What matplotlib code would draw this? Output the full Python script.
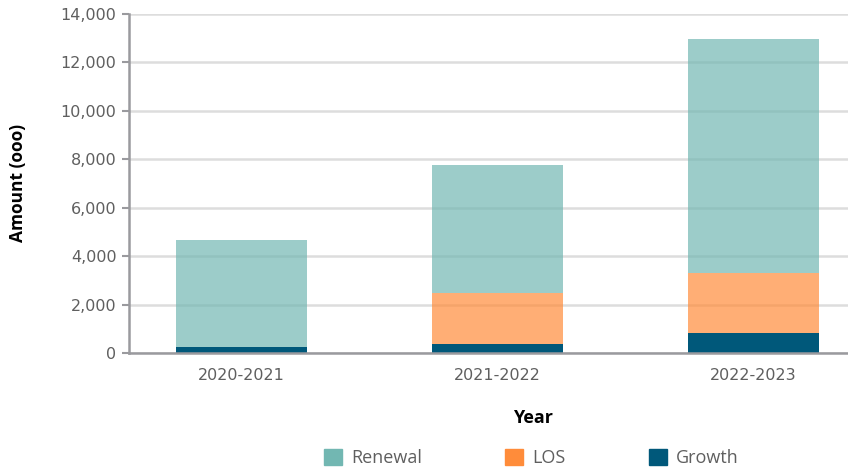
import matplotlib
matplotlib.use('Agg')
import numpy as np
import matplotlib.pyplot as plt
from matplotlib.patches import Patch
from matplotlib.ticker import FuncFormatter

# Data (amounts in thousands)
years = ['2020-2021', '2021-2022', '2022-2023']
growth = [230, 385, 840]
los = [0, 2095, 2450]
renewal = [4440, 5290, 9685]

c_renewal = '#72b7b2'
c_los = '#ff8c3a'
c_growth = '#00587a'

W, H = 848, 470
fig = plt.figure(figsize=(W / 100, H / 100), dpi=100)
ax = fig.add_axes([129 / W, 1 - 353 / H, (848 - 129) / W, (353 - 14) / H])

x = np.arange(len(years))
bw = 0.513
ax.bar(x, growth, bw, color=c_growth, zorder=2)
ax.bar(x, los, bw, bottom=growth, color=c_los, alpha=0.7, zorder=2)
base = np.array(growth) + np.array(los)
ax.bar(x, renewal, bw, bottom=base, color=c_renewal, alpha=0.7, zorder=2)

ax.set_xlim(-0.44, 2.37)
ax.set_ylim(0, 14000)
ax.set_yticks(np.arange(0, 14001, 2000))
ax.yaxis.set_major_formatter(FuncFormatter(lambda v, p: '{:,.0f}'.format(v)))
ax.set_xticks(x)
ax.set_xticklabels(years)

ax.grid(axis='y', color='#dddddd', linewidth=1.8, zorder=0)
ax.set_axisbelow(True)
for s in ['top', 'right']:
    ax.spines[s].set_visible(False)
for s in ['left', 'bottom']:
    ax.spines[s].set_color('#9a9a9e')
    ax.spines[s].set_linewidth(1.8)
ax.tick_params(axis='y', length=5, width=1.5, color='#9a9a9e',
               labelsize=11.5, labelcolor='#5f5f5f', pad=4)
ax.tick_params(axis='x', length=0, labelsize=11.5, labelcolor='#5f5f5f', pad=11)
for lab in ax.get_xticklabels() + ax.get_yticklabels():
    lab.set_family('DejaVu Sans')

fig.text(533 / W, 1 - 418 / H, 'Year', ha='center', va='center',
         fontsize=13, fontweight='bold', family='Open Sans')
fig.text(18 / W, 1 - 183 / H, 'Amount (ooo)', ha='center', va='center',
         rotation=90, fontsize=12.5, fontweight='bold', family='Open Sans')

handles = [Patch(color=c_renewal, label='Renewal'),
           Patch(color=c_los, label='LOS'),
           Patch(color=c_growth, label='Growth')]
leg = fig.legend(handles=handles, ncol=3, loc='center left',
                 bbox_to_anchor=(308 / W, 1 - 458 / H), frameon=False,
                 prop={'family': 'Open Sans', 'size': 13},
                 handlelength=1.0, handleheight=1.0, handletextpad=0.5,
                 columnspacing=4.6)
for t in leg.get_texts():
    t.set_color('#5f5f5f')

fig.savefig('out.png', dpi=100)
